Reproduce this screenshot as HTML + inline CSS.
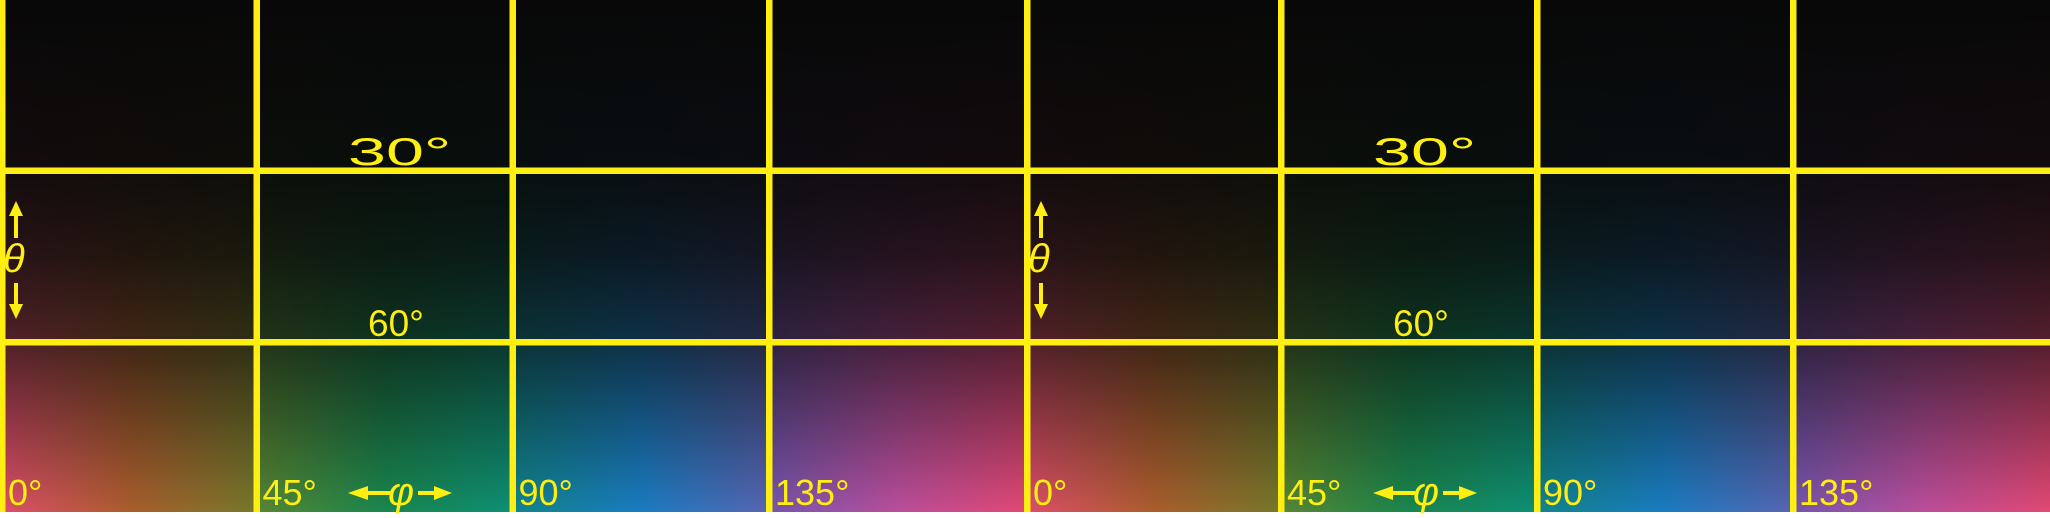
<!DOCTYPE html>
<html><head><meta charset="utf-8"><style>
html,body{margin:0;padding:0;background:#fff;width:2050px;height:518px;overflow:hidden}
svg{display:block}
text{font-family:"Liberation Sans",sans-serif;fill:#ffee11}
</style></head><body>
<svg id="chart" width="2050" height="518" viewBox="0 0 2050 518" xmlns="http://www.w3.org/2000/svg">
<defs>
<linearGradient id="shade" x1="0" y1="0" x2="0" y2="512" gradientUnits="userSpaceOnUse">
<stop offset="0" stop-color="#080808" stop-opacity="1"/>
<stop offset="0.33" stop-color="#080808" stop-opacity="0.95"/>
<stop offset="0.5" stop-color="#080808" stop-opacity="0.85"/>
<stop offset="0.67" stop-color="#080808" stop-opacity="0.66"/>
<stop offset="0.85" stop-color="#080808" stop-opacity="0.32"/>
<stop offset="1" stop-color="#080808" stop-opacity="0.03"/>
</linearGradient>
</defs>
<g id="cells"></g>
<rect x="0" y="0" width="2050" height="512" fill="url(#shade)"/>
<g id="grid"></g>
<g id="labels"></g>
</svg>
<script>
const phiLabels = ["0°","45°","90°","135°","0°","45°","90°","135°"];
const thetaLabels = ["30°","60°"];
const hueStops = [
 ["#e4506c","#b0602e","#7a7c2c"],
 ["#5a8a35","#1a8a50","#0e9478"],
 ["#108890","#1a80c8","#5a68b8"],
 ["#7a58b4","#c050a0","#ea4a78"]
];
const NS="http://www.w3.org/2000/svg";
const svg=document.getElementById('chart');
const defs=svg.querySelector('defs');
const cells=document.getElementById('cells');
const grid=document.getElementById('grid');
const labels=document.getElementById('labels');
const colX=[2,256.5,512.5,769,1027,1281,1537,1793,2050];
function mk(t,a){const e=document.createElementNS(NS,t);for(const k in a)e.setAttribute(k,a[k]);return e;}
phiLabels.forEach((lab,i)=>{
  const stops=hueStops[i%4];
  const g=mk('linearGradient',{id:'h'+i,x1:0,y1:0,x2:1,y2:0});
  stops.forEach((c,j)=>g.appendChild(mk('stop',{offset:j/(stops.length-1),'stop-color':c})));
  defs.appendChild(g);
  const r=mk('rect',{x:colX[i],y:0,width:colX[i+1]-colX[i],height:512,fill:'url(#h'+i+')'});
  
  
  cells.appendChild(r);
  const t=mk('text',{x:colX[i]+6,y:505,'font-size':36});
  
  
  t.textContent=lab;labels.appendChild(t);
});
for(let i=0;i<8;i++){
  const l=mk('rect',{x:colX[i]-3,y:0,width:6.5,height:512,fill:'#ffee11'});
  
  
  grid.appendChild(l);
}
[170.5,342].forEach((y,i)=>{
  const l=mk('rect',{x:0,y:y-3,width:2050,height:6.5,fill:'#ffee11'});
  
  
  grid.appendChild(l);
});
[0,1025].forEach((ox,p)=>{
  const c=ox+256;
  const t30=mk('text',{x:0,y:0,'font-size':39,transform:'translate('+(c+92)+',165) scale(1.75,1)'});
  
  
  t30.textContent=thetaLabels[0];labels.appendChild(t30);
  const t60=mk('text',{x:c+112,y:336,'font-size':37});
  
  
  t60.textContent=thetaLabels[1];labels.appendChild(t60);
  const th=mk('text',{x:ox+3,y:272,'font-size':40,'font-style':'italic'});
  
  
  th.textContent='θ';labels.appendChild(th);
  const ax=ox+16;
  const ta=mk('path',{d:`M${ax-2} 238 V216 h-5 L${ax} 201 L${ax+7} 216 h-5 V238 Z M${ax-2} 283 V304 h-5 L${ax} 319 L${ax+7} 304 h-5 V283 Z`,fill:'#ffee11'});
  
  
  labels.appendChild(ta);
  const ph=mk('text',{x:c+132,y:505,'font-size':40,'font-style':'italic'});
  
  
  ph.textContent='φ';labels.appendChild(ph);
  const py=493;
  const pa=mk('path',{d:`M${c+134} ${py-2} H${c+112} v-5 L${c+92} ${py} L${c+112} ${py+7} v-5 H${c+134} Z M${c+162} ${py-2} H${c+178} v-5 L${c+196} ${py} L${c+178} ${py+7} v-5 H${c+162} Z`,fill:'#ffee11'});
  
  
  labels.appendChild(pa);
});
</script>
</body></html>
